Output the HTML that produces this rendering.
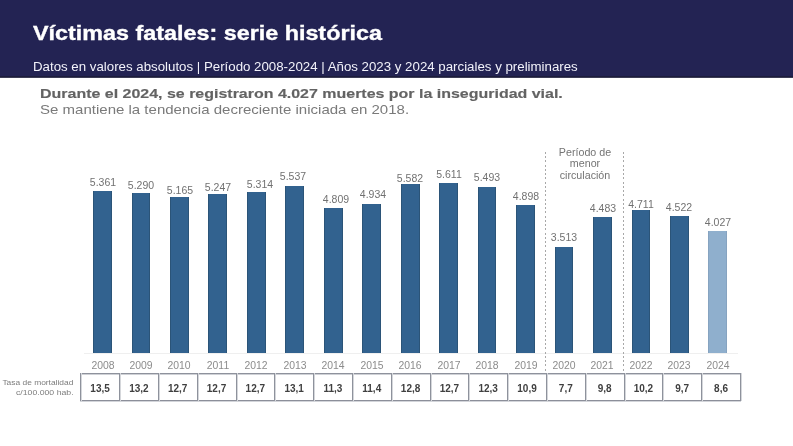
<!DOCTYPE html>
<html><head><meta charset="utf-8"><style>
*{margin:0;padding:0;box-sizing:border-box}
html,body{width:793px;height:446px;overflow:hidden;background:#fff}
body{position:relative;font-family:"Liberation Sans",sans-serif}
.wrap{position:absolute;left:0;top:0;width:793px;height:446px;will-change:transform}
.banner{position:absolute;left:0;top:0;width:793px;height:76px;background:#232353}
.bline{position:absolute;left:0;top:76px;width:793px;height:2px;background:linear-gradient(#1c1c3c 0,#1c1c3c 50%,#3c3c55 50%,#3c3c55 100%)}
.t1{position:absolute;left:33px;top:20.70px;font-size:20.2px;line-height:24px;font-weight:bold;color:#fff;-webkit-text-stroke:0.35px #fff;white-space:nowrap;transform-origin:0 0;transform:scaleX(1.156)}
.t2{position:absolute;left:32.6px;top:59.84px;font-size:12px;line-height:14px;color:#f2f2fa;white-space:nowrap;transform-origin:0 0;transform:scaleX(1.106)}
.h1{position:absolute;left:40.4px;top:85.81px;font-size:12.8px;line-height:15px;font-weight:bold;color:#636363;-webkit-text-stroke:0.15px #636363;white-space:nowrap;transform-origin:0 0;transform:scaleX(1.248)}
.h2{position:absolute;left:40.2px;top:101.73px;font-size:13.2px;line-height:15px;color:#7a7a7a;white-space:nowrap;transform-origin:0 0;transform:scaleX(1.139)}
.bar{position:absolute;width:18.8px;background:#32628f;border-left:1px solid #2b5478;border-right:1px solid #2b5478}
.bar.light{background:#8fafcd;border-color:#86a3c0}
.val{position:absolute;width:40px;text-align:center;font-size:10.0px;color:#717171;line-height:12px;transform:scaleX(1.05)}
.yr{position:absolute;width:40px;text-align:center;font-size:10px;color:#8c8c8c;top:359.63px;line-height:12px;transform:scaleX(1.04)}
.axis{position:absolute;left:84px;top:353px;width:654px;height:1px;background:#efefef}
.hl{position:absolute;left:80px;width:661px;height:2px}
.vl{position:absolute;top:373px;width:2px;height:28px;background:linear-gradient(90deg,#8e929c 0,#8e929c 50%,#d5d7db 50%,#d5d7db 100%)}
.cell{position:absolute;top:373.5px;width:38.81px;height:27.00px;text-align:center;font-size:10px;font-weight:bold;color:#404040;padding-top:9.43px;line-height:12px}
.lab{position:absolute;right:719.7px;text-align:right;font-size:7.5px;color:#7d7d7d;line-height:9.1px;white-space:nowrap;transform-origin:100% 0;transform:scaleX(1.12)}
.dash{position:absolute;top:152px;height:220px;width:1px;background:repeating-linear-gradient(to bottom,#a8a8a8 0,#a8a8a8 2px,transparent 2px,transparent 4.25px)}
.note{position:absolute;left:544.5px;top:146.69px;width:80px;text-align:center;font-size:10px;color:#747474;line-height:11.5px;transform:scaleX(1.07)}
</style></head><body><div class="wrap">
<div class="banner"></div><div class="bline"></div>
<div class="t1">Víctimas fatales: serie histórica</div>
<div class="t2">Datos en valores absolutos | Período 2008-2024 | Años 2023 y 2024 parciales y preliminares</div>
<div class="h1">Durante el 2024, se registraron 4.027 muertes por la inseguridad vial.</div>
<div class="h2">Se mantiene la tendencia decreciente iniciada en 2018.</div>
<div class="axis"></div>
<div class="dash" style="left:545px"></div>
<div class="dash" style="left:623px"></div>
<div class="note">Período de<br>menor<br>circulación</div>
<div class="bar" style="left:93.10px;top:190.83px;height:162.17px"></div>
<div class="val" style="left:82.70px;top:176.83px">5.361</div>
<div class="yr" style="left:82.50px">2008</div>
<div class="cell" style="left:80.70px">13,5</div>
<div class="bar" style="left:131.56px;top:192.98px;height:160.02px"></div>
<div class="val" style="left:121.35px;top:180.03px">5.290</div>
<div class="yr" style="left:120.96px">2009</div>
<div class="cell" style="left:119.51px">13,2</div>
<div class="bar" style="left:170.02px;top:196.76px;height:156.24px"></div>
<div class="val" style="left:159.50px;top:185.13px">5.165</div>
<div class="yr" style="left:159.42px">2010</div>
<div class="cell" style="left:158.32px">12,7</div>
<div class="bar" style="left:208.48px;top:194.28px;height:158.72px"></div>
<div class="val" style="left:198.10px;top:181.94px">5.247</div>
<div class="yr" style="left:197.88px">2011</div>
<div class="cell" style="left:197.13px">12,7</div>
<div class="bar" style="left:246.94px;top:192.25px;height:160.75px"></div>
<div class="val" style="left:239.90px;top:178.73px">5.314</div>
<div class="yr" style="left:236.34px">2012</div>
<div class="cell" style="left:235.94px">12,7</div>
<div class="bar" style="left:285.40px;top:185.51px;height:167.49px"></div>
<div class="val" style="left:272.70px;top:171.13px">5.537</div>
<div class="yr" style="left:274.80px">2013</div>
<div class="cell" style="left:274.75px">13,1</div>
<div class="bar" style="left:323.86px;top:207.53px;height:145.47px"></div>
<div class="val" style="left:315.90px;top:194.03px">4.809</div>
<div class="yr" style="left:313.26px">2014</div>
<div class="cell" style="left:313.56px">11,3</div>
<div class="bar" style="left:362.32px;top:203.75px;height:149.25px"></div>
<div class="val" style="left:352.70px;top:188.94px">4.934</div>
<div class="yr" style="left:351.72px">2015</div>
<div class="cell" style="left:352.37px">11,4</div>
<div class="bar" style="left:400.78px;top:184.14px;height:168.86px"></div>
<div class="val" style="left:390.30px;top:172.53px">5.582</div>
<div class="yr" style="left:390.18px">2016</div>
<div class="cell" style="left:391.18px">12,8</div>
<div class="bar" style="left:439.24px;top:183.27px;height:169.73px"></div>
<div class="val" style="left:428.50px;top:169.13px">5.611</div>
<div class="yr" style="left:428.64px">2017</div>
<div class="cell" style="left:429.99px">12,7</div>
<div class="bar" style="left:477.70px;top:186.84px;height:166.16px"></div>
<div class="val" style="left:467.30px;top:172.44px">5.493</div>
<div class="yr" style="left:467.10px">2018</div>
<div class="cell" style="left:468.80px">12,3</div>
<div class="bar" style="left:516.16px;top:204.84px;height:148.16px"></div>
<div class="val" style="left:505.60px;top:190.53px">4.898</div>
<div class="yr" style="left:505.56px">2019</div>
<div class="cell" style="left:507.61px">10,9</div>
<div class="bar" style="left:554.62px;top:246.73px;height:106.27px"></div>
<div class="val" style="left:544.40px;top:232.44px">3.513</div>
<div class="yr" style="left:544.02px">2020</div>
<div class="cell" style="left:546.42px">7,7</div>
<div class="bar" style="left:593.08px;top:217.39px;height:135.61px"></div>
<div class="val" style="left:582.50px;top:203.23px">4.483</div>
<div class="yr" style="left:582.48px">2021</div>
<div class="cell" style="left:585.23px">9,8</div>
<div class="bar" style="left:631.54px;top:210.49px;height:142.51px"></div>
<div class="val" style="left:620.70px;top:199.03px">4.711</div>
<div class="yr" style="left:620.94px">2022</div>
<div class="cell" style="left:624.04px">10,2</div>
<div class="bar" style="left:670.00px;top:216.21px;height:136.79px"></div>
<div class="val" style="left:659.20px;top:202.03px">4.522</div>
<div class="yr" style="left:659.40px">2023</div>
<div class="cell" style="left:662.85px">9,7</div>
<div class="bar light" style="left:708.46px;top:231.18px;height:121.82px"></div>
<div class="val" style="left:697.80px;top:217.13px">4.027</div>
<div class="yr" style="left:697.86px">2024</div>
<div class="cell" style="left:701.66px">8,6</div>
<div class="hl" style="top:373px;background:linear-gradient(#8e929c 0,#8e929c 50%,#cfd1d6 50%,#cfd1d6 100%)"></div>
<div class="hl" style="top:400px;background:linear-gradient(#8c8f9a 0,#8c8f9a 50%,#d3d5da 50%,#d3d5da 100%)"></div>
<div class="vl" style="left:80px"></div>
<div class="vl" style="left:119px"></div>
<div class="vl" style="left:158px"></div>
<div class="vl" style="left:197px"></div>
<div class="vl" style="left:236px"></div>
<div class="vl" style="left:274px"></div>
<div class="vl" style="left:313px"></div>
<div class="vl" style="left:352px"></div>
<div class="vl" style="left:391px"></div>
<div class="vl" style="left:430px"></div>
<div class="vl" style="left:468px"></div>
<div class="vl" style="left:507px"></div>
<div class="vl" style="left:546px"></div>
<div class="vl" style="left:585px"></div>
<div class="vl" style="left:624px"></div>
<div class="vl" style="left:662px"></div>
<div class="vl" style="left:701px"></div>
<div class="vl" style="left:740px"></div>
<div class="lab" style="top:378.45px">Tasa de mortalidad</div>
<div class="lab" style="top:387.55px;transform:scaleX(1.163)">c/100.000 hab.</div>
</div></body></html>
